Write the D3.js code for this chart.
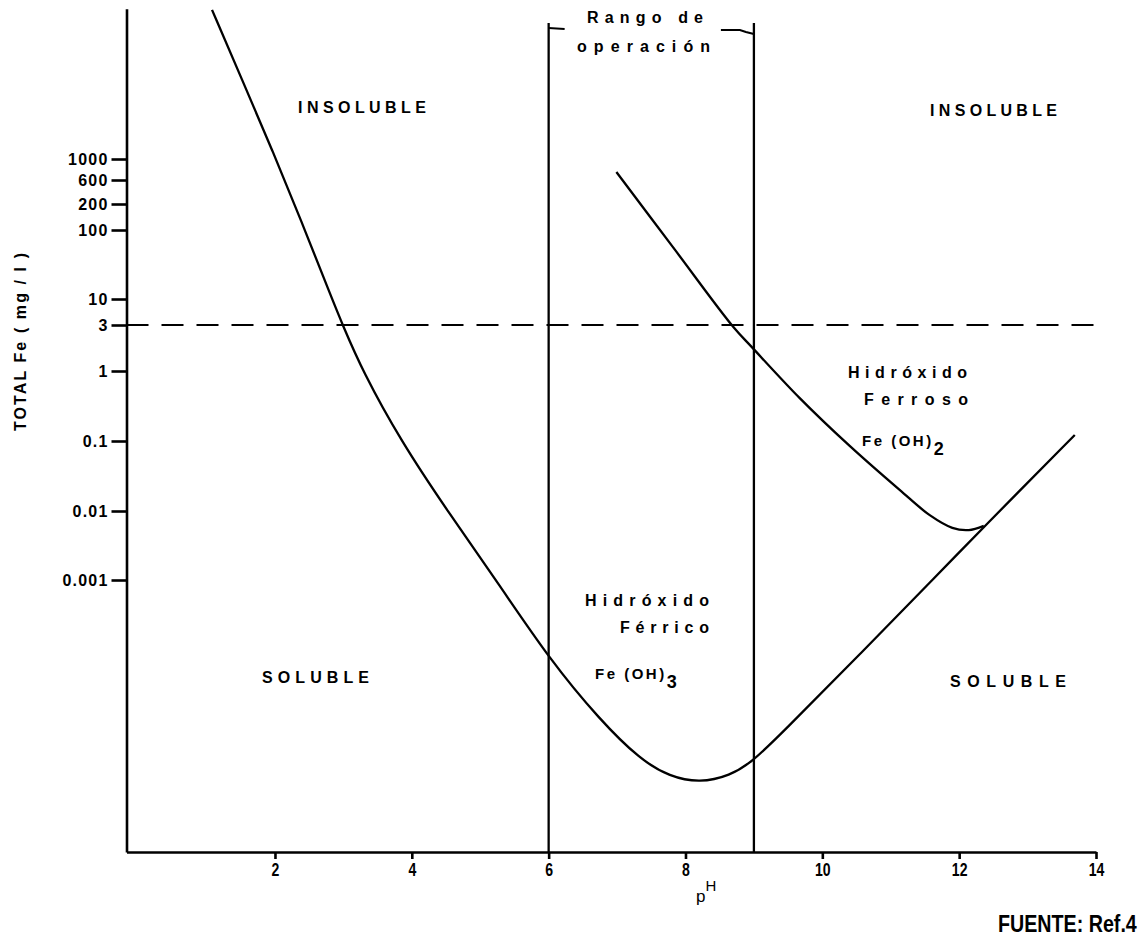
<!DOCTYPE html>
<html lang="es">
<head>
<meta charset="UTF-8">
<title>Solubilidad del hierro frente al pH</title>
<script src="https://d3js.org/d3.v7.min.js"></script>
<style>
  body { margin: 0; background: #fff; }
  svg { display: block; font-family: "Liberation Sans", Arial, Helvetica, sans-serif; }
  .axis path, .axis line { stroke: #000; stroke-width: 2.6px; }
  .axis text { fill: #000; font-weight: bold; }
  .curve { fill: none; stroke: #000; stroke-width: 2.3px; }
  .label { font-weight: bold; fill: #000; }
</style>
</head>
<body>
<script>
// pH axis ticks
const phTicks = [2, 4, 6, 8, 10, 12, 14];

// Fe axis ticks (mg/l) and the text printed next to them
const feTicks = [1000, 600, 200, 100, 10, 3, 1, 0.1, 0.01, 0.001];
const feTickLabels = ["1000", "600", "200", "100", "10", "3", "1", "0.1", "0.01", "0.001"];

// Fe(OH)3 solubility boundary
const ferricPH = [1.08, 1.52, 1.96, 2.38, 2.83, 2.99, 3.28, 3.84, 4.53, 5.26, 6.02,
                  6.75, 7.34, 7.77, 8.21, 8.65, 8.97, 9.38, 10.55, 11.72, 12.30, 13.69];
const ferricFe = [1.35e5, 1.35e4, 1350, 130, 10.3, 3, 1, 0.1, 0.0097, 9.1e-4, 7.2e-5,
                  1e-5, 2.7e-6, 1.55e-6, 1.26e-6, 1.6e-6, 2.5e-6, 6.1e-6, 8.7e-5, 1.3e-3, 5.1e-3, 0.122];

// Fe(OH)2 solubility boundary
const ferrousPH = [6.99, 7.85, 8.70, 8.97, 9.67, 10.40, 11.13, 11.57, 11.90, 12.14, 12.36];
const ferrousFe = [730, 51, 2.86, 1.77, 0.41, 0.085, 0.02, 0.0087, 0.0057, 0.0053, 0.0061];

// operating range (pH) and Fe limit (mg/l)
const operatingRange = [6, 9];
const feLimit = 3;

const width = 1142, height = 945;

const svg = d3.select("body").append("svg")
  .attr("width", width)
  .attr("height", height);

const x = d3.scaleLinear().domain([-0.17, 14]).range([126.5, 1096]);

// the printed axis is not a clean log scale, so the tick marks are used as break points
const y = d3.scaleLog()
  .domain([1.3e-7, 0.001, 0.01, 0.1, 1, 3, 10, 100, 200, 600, 1000, 1.4e5])
  .range([852, 580, 511, 441, 371, 325, 299, 230, 204, 180, 159, 8.8]);

const yBottom = y(1.3e-7);

// axes
svg.append("g")
  .attr("class", "axis")
  .attr("transform", `translate(0,${yBottom})`)
  .call(d3.axisBottom(x).tickValues(phTicks).tickSize(7).tickSizeOuter(0).tickPadding(3))
  .call(g => g.selectAll("text").attr("font-size", 16)
    .attr("transform", "scale(0.88,1.12)"))
  .call(g => g.selectAll(".tick line").attr("stroke-width", 2));

svg.append("g")
  .attr("class", "axis")
  .attr("transform", `translate(${x(-0.17)},0)`)
  .call(d3.axisLeft(y).tickValues(feTicks).tickFormat((d, i) => feTickLabels[i])
    .tickSize(15).tickSizeOuter(0).tickPadding(3))
  .call(g => g.selectAll("text").attr("font-size", 16).attr("letter-spacing", 1.2))
  .call(g => g.selectAll(".tick line").attr("stroke-width", 2));

// Fe limit (dashed)
svg.append("line")
  .attr("x1", x(-0.17)).attr("x2", x(14.1))
  .attr("y1", y(feLimit)).attr("y2", y(feLimit))
  .attr("stroke", "#000").attr("stroke-width", 2)
  .attr("stroke-dasharray", "22,13");

// operating range verticals
svg.selectAll(".range")
  .data(operatingRange)
  .join("line")
  .attr("class", "range")
  .attr("x1", d => x(d)).attr("x2", d => x(d))
  .attr("y1", 23).attr("y2", yBottom)
  .attr("stroke", "#000").attr("stroke-width", 2.3);

// bracket arms next to "Rango de operación"
svg.append("line")
  .attr("x1", x(6)).attr("x2", x(6) + 16)
  .attr("y1", 28).attr("y2", 29)
  .attr("stroke", "#000").attr("stroke-width", 2);
svg.append("path")
  .attr("d", `M${x(9) - 33},30 L${x(9) - 14},30 L${x(9) - 8},32 L${x(9)},34`)
  .attr("fill", "none").attr("stroke", "#000").attr("stroke-width", 2);

// curves
const ferricLine = d3.line()
  .x(d => x(d[0]))
  .y(d => y(d[1]))
  .curve(d3.curveBasis);

const ferrousLine = d3.line()
  .x(d => x(d[0]))
  .y(d => y(d[1]))
  .curve(d3.curveCatmullRom.alpha(0.5));

svg.append("path").attr("class", "curve").attr("d", ferricLine(d3.zip(ferricPH, ferricFe)));
svg.append("path").attr("class", "curve").attr("d", ferrousLine(d3.zip(ferrousPH, ferrousFe)));

// text labels, stretched to the widths of the printed originals
function label(txt, px, py, size, len) {
  return svg.append("text")
    .attr("class", "label")
    .attr("x", px).attr("y", py)
    .attr("font-size", size)
    .attr("textLength", len)
    .attr("lengthAdjust", "spacing")
    .text(txt);
}

label("Rango de", 587, 23, 16, 116);
label("operación", 577, 52, 16, 133);

label("INSOLUBLE", 298, 113, 16, 128);
label("INSOLUBLE", 930, 116, 16, 127);
label("SOLUBLE", 262, 683, 16, 107);
label("SOLUBLE", 950, 687, 16, 116);

label("Hidróxido", 848, 378, 16, 119);
label("Ferroso", 864, 405, 16, 104);
const fe2 = svg.append("text").attr("class", "label")
  .attr("x", 862).attr("y", 446).attr("font-size", 15).attr("letter-spacing", 2.5)
  .text("Fe (OH)");
fe2.append("tspan").attr("dy", 9).attr("font-size", 18).text("2");

label("Hidróxido", 585, 606, 16, 124);
label("Férrico", 620, 633, 16, 89);
const fe3 = svg.append("text").attr("class", "label")
  .attr("x", 595).attr("y", 679).attr("font-size", 15).attr("letter-spacing", 2.5)
  .text("Fe (OH)");
fe3.append("tspan").attr("dy", 9).attr("font-size", 18).text("3");

// y axis title
svg.append("text")
  .attr("class", "label")
  .attr("transform", "translate(26,342) rotate(-90)")
  .attr("text-anchor", "middle")
  .attr("font-size", 16)
  .attr("textLength", 178)
  .attr("lengthAdjust", "spacing")
  .text("TOTAL Fe ( mg / l )");

// x axis title
const ph = svg.append("text")
  .attr("x", 696).attr("y", 902)
  .attr("font-size", 17)
  .text("p");
ph.append("tspan").attr("dy", -11).attr("font-size", 15).text("H");

// source, printed in a condensed bold face
svg.append("text")
  .attr("transform", "translate(998,932) scale(0.82,1)")
  .attr("font-size", 24)
  .attr("font-weight", "bold")
  .text("FUENTE: Ref.4");
</script>
</body>
</html>
